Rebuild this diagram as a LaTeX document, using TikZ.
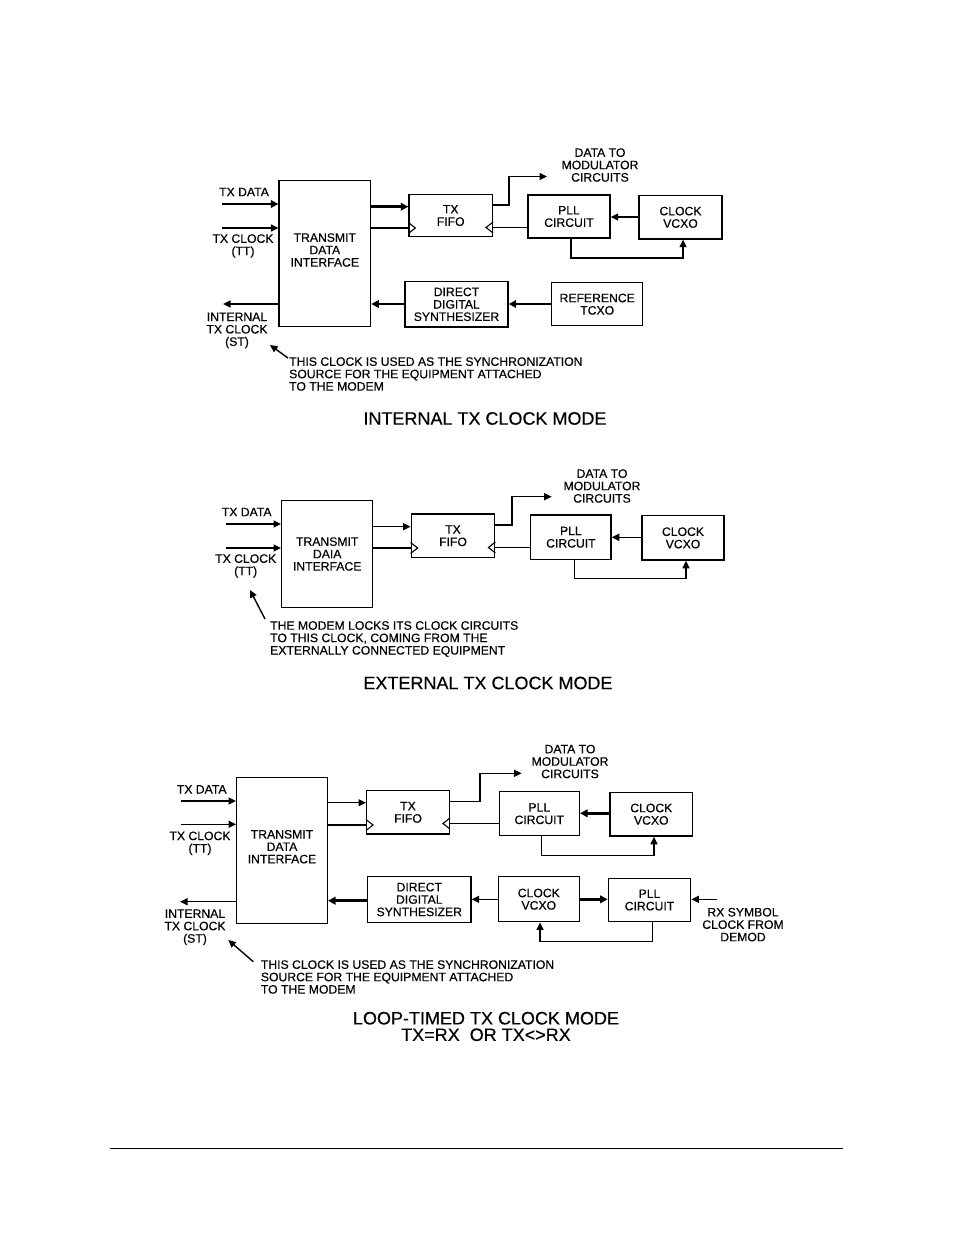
\documentclass[tikz,border=0pt]{standalone}
\usepackage{fontspec}
\setmainfont{Liberation Sans}[FakeBold=0.35]
\usetikzlibrary{arrows.meta}
\newcommand{\lblfont}{\fontsize{12.2}{12.4}\selectfont}
\newcommand{\ttlfont}{\fontsize{18}{16.5}\selectfont}
\tikzset{
  box/.style={draw, line width=1.4pt, inner sep=0pt, align=center, font=\lblfont},
  txt/.style={inner sep=0pt, align=center, font=\lblfont},
  ttl/.style={inner sep=0pt, align=center, font=\ttlfont},
  wire/.style={line width=1.4pt},
  wirea/.style={wire, -{Triangle[length=7.5pt,width=7pt]}},
  bus/.style={line width=2.6pt},
  busa/.style={bus, -{Triangle[length=7.5pt,width=7.5pt]}},
  clk/.style={line width=1.1pt},
}
\begin{document}
\begin{tikzpicture}[x=1pt,y=-1pt]
\fill[white] (0,0) rectangle (954,1235);
\useasboundingbox (0,0) rectangle (954,1235);

% ================= Diagram 1: INTERNAL TX CLOCK MODE =================
\node[box, minimum width=91.5pt, minimum height=146pt] (tdi1) at (324.8,253.7) {};
\node[txt] (tdi1t) at ([yshift=3.7pt]tdi1.center) {TRANSMIT\\DATA\\INTERFACE};
\node[box, minimum width=83.3pt, minimum height=42.4pt] (fifo1) at (450.7,215.5) {TX\\FIFO};
\node[box, minimum width=82pt, minimum height=43pt] (pll1) at (569,216.5) {PLL\\CIRCUIT};
\node[box, minimum width=83pt, minimum height=43.3pt] (vcxo1) at (680.5,217.3) {CLOCK\\VCXO};
\node[box, minimum width=103pt, minimum height=45.3pt] (dds1) at (456.5,304.3) {DIRECT\\DIGITAL\\SYNTHESIZER};
\node[box, minimum width=91pt, minimum height=43pt] (ref1) at (597.2,304.2) {REFERENCE\\TCXO};

\node[txt] (ltxd1) at (244,192) {TX DATA};
\node[txt] (ltxc1) at (243,246) {TX CLOCK\\(TT)};
\node[txt] (lst1) at (237,330.5) {INTERNAL\\TX CLOCK\\(ST)};
\node[txt] (ldm1) at (600,165) {DATA TO\\MODULATOR\\CIRCUITS};
\node[txt, align=left, anchor=west] (note1) at (289,374) {THIS CLOCK IS USED AS THE SYNCHRONIZATION\\SOURCE FOR THE EQUIPMENT ATTACHED\\TO THE MODEM};
\node[ttl] (t1) at (485,418.5) {INTERNAL TX CLOCK MODE};

\coordinate (txd1) at (222,204);
\coordinate (txc1) at (222,228);
\coordinate (st1) at (223,304);
\coordinate (dm1) at (547,176.5);
\coordinate (an1s) at (288,358);
\coordinate (an1e) at (270,345);

\draw[busa] (txd1) -- (txd1 -| tdi1.west);
\draw[wirea] (txc1) -- (txc1 -| tdi1.west);
\draw[wirea] (st1 -| tdi1.west) -- (st1);
\draw[busa] (tdi1.east |- 0,206.7) -- (fifo1.west |- 0,206.7);
\draw[wire] (tdi1.east |- 0,228) -- (fifo1.west |- 0,228);
\draw[clk] (fifo1.west |- 0,222.5) -- ++(7,5.5) -- ++(-7,5.5);
\draw[clk] (fifo1.east |- 0,222) -- ++(-7,5.5) -- ++(7,5.5);
\draw[wirea] (fifo1.east |- 0,205) -- (509,205) -- (509,176.5) -- (dm1);
\draw[wire] (pll1.west |- 0,227.5) -- (fifo1.east |- 0,227.5);
\draw[wirea] (vcxo1.west |- 0,217) -- (pll1.east |- 0,217);
\draw[wirea] (pll1.south -| 571,0) -- (571,258) -- (683,258) -- (vcxo1.south -| 683,0);
\draw[busa] (ref1.west |- 0,304) -- (dds1.east |- 0,304);
\draw[busa] (dds1.west |- 0,304) -- (tdi1.east |- 0,304);
\draw[wirea] (an1s) -- (an1e);

% ================= Diagram 2: EXTERNAL TX CLOCK MODE =================
\node[box, minimum width=91pt, minimum height=106.6pt] (tdi2) at (327.2,554) {};
\node[txt] (tdi2t) at (tdi2.center) {TRANSMIT\\DAIA\\INTERFACE};
\node[box, minimum width=83.4pt, minimum height=43.3pt] (fifo2) at (453,535.7) {TX\\FIFO};
\node[box, minimum width=80.3pt, minimum height=44.3pt] (pll2) at (570.9,537.2) {PLL\\CIRCUIT};
\node[box, minimum width=82pt, minimum height=44.3pt] (vcxo2) at (683,537.9) {CLOCK\\VCXO};

\node[txt] (ltxd2) at (246.7,512) {TX DATA};
\node[txt] (ltxc2) at (245.7,566) {TX CLOCK\\(TT)};
\node[txt] (ldm2) at (602,486) {DATA TO\\MODULATOR\\CIRCUITS};
\node[txt, align=left, anchor=west] (note2) at (270,639) {THE MODEM LOCKS ITS CLOCK CIRCUITS\\TO THIS CLOCK, COMING FROM THE\\EXTERNALLY CONNECTED EQUIPMENT};
\node[ttl] (t2) at (488,683) {EXTERNAL TX CLOCK MODE};

\coordinate (txd2) at (225.7,524);
\coordinate (txc2) at (225.7,548);
\coordinate (dm2) at (551.7,496.7);
\coordinate (an2s) at (265,619);
\coordinate (an2e) at (250,590);

\draw[wirea] (txd2) -- (txd2 -| tdi2.west);
\draw[wirea] (txc2) -- (txc2 -| tdi2.west);
\draw[wirea] (tdi2.east |- 0,526.7) -- (fifo2.west |- 0,526.7);
\draw[wire] (tdi2.east |- 0,548) -- (fifo2.west |- 0,548);
\draw[clk] (fifo2.west |- 0,542.5) -- ++(7,5.5) -- ++(-7,5.5);
\draw[clk] (fifo2.east |- 0,542) -- ++(-7,5.5) -- ++(7,5.5);
\draw[wirea] (fifo2.east |- 0,525) -- (512,525) -- (512,496.7) -- (dm2);
\draw[wire] (pll2.west |- 0,547.5) -- (fifo2.east |- 0,547.5);
\draw[wirea] (vcxo2.west |- 0,537.3) -- (pll2.east |- 0,537.3);
\draw[wirea] (pll2.south -| 574.3,0) -- (574.3,578.3) -- (686,578.3) -- (vcxo2.south -| 686,0);
\draw[wirea] (an2s) -- (an2e);

% ================= Diagram 3: LOOP-TIMED TX CLOCK MODE =================
\node[box, minimum width=90.6pt, minimum height=146pt] (tdi3) at (282,850.3) {};
\node[txt] (tdi3t) at ([yshift=3.6pt]tdi3.center) {TRANSMIT\\DATA\\INTERFACE};
\node[box, minimum width=82.6pt, minimum height=43.3pt] (fifo3) at (408,812.3) {TX\\FIFO};
\node[box, minimum width=103.3pt, minimum height=45.6pt] (dds3) at (419.3,899.5) {DIRECT\\DIGITAL\\SYNTHESIZER};
\node[box, minimum width=80pt, minimum height=44pt] (pll3) at (539.3,813.7) {PLL\\CIRCUIT};
\node[box, minimum width=82.7pt, minimum height=43.7pt] (vcxo3) at (651.3,814.2) {CLOCK\\VCXO};
\node[box, minimum width=81pt, minimum height=45pt] (vcxob3) at (538.8,899.2) {CLOCK\\VCXO};
\node[box, minimum width=82.4pt, minimum height=43.4pt] (pllb3) at (649.5,900) {PLL\\CIRCUIT};

\node[txt] (ltxd3) at (201.7,789.3) {TX DATA};
\node[txt] (ltxc3) at (200,843.3) {TX CLOCK\\(TT)};
\node[txt] (lst3) at (195,927.3) {INTERNAL\\TX CLOCK\\(ST)};
\node[txt] (ldm3) at (570,761.5) {DATA TO\\MODULATOR\\CIRCUITS};
\node[txt] (lrx3) at (743,924.6) {RX SYMBOL\\CLOCK FROM\\DEMOD};
\node[txt, align=left, anchor=west] (note3) at (260.7,977) {THIS CLOCK IS USED AS THE SYNCHRONIZATION\\SOURCE FOR THE EQUIPMENT ATTACHED\\TO THE MODEM};
\node[ttl] (t3) at (486,1026.5) {LOOP-TIMED TX CLOCK MODE\\TX=RX\ \ OR TX<>RX};

\coordinate (txd3) at (180.7,801);
\coordinate (txc3) at (180.7,824.3);
\coordinate (st3) at (180,901.7);
\coordinate (dm3) at (521.7,773.3);
\coordinate (rx3) at (716.7,899.3);
\coordinate (an3s) at (253.3,961.7);
\coordinate (an3e) at (228.3,940);

\draw[wirea] (txd3) -- (txd3 -| tdi3.west);
\draw[wirea] (txc3) -- (txc3 -| tdi3.west);
\draw[wirea] (st3 -| tdi3.west) -- (st3);
\draw[wirea] (tdi3.east |- 0,802.7) -- (fifo3.west |- 0,802.7);
\draw[wire] (tdi3.east |- 0,825) -- (fifo3.west |- 0,825);
\draw[clk] (fifo3.west |- 0,819.5) -- ++(7,5.5) -- ++(-7,5.5);
\draw[clk] (fifo3.east |- 0,818) -- ++(-7,5.5) -- ++(7,5.5);
\draw[wirea] (fifo3.east |- 0,801.7) -- (480,801.7) -- (480,773.3) -- (dm3);
\draw[wire] (pll3.west |- 0,823.5) -- (fifo3.east |- 0,823.5);
\draw[busa] (vcxo3.west |- 0,813.3) -- (pll3.east |- 0,813.3);
\draw[wirea] (pll3.south -| 541.7,0) -- (541.7,855.7) -- (654,855.7) -- (vcxo3.south -| 654,0);
\draw[wirea] (vcxob3.west |- 0,899.3) -- (dds3.east |- 0,899.3);
\draw[busa] (dds3.west |- 0,900.7) -- (tdi3.east |- 0,900.7);
\draw[busa] (vcxob3.east |- 0,899.3) -- (pllb3.west |- 0,899.3);
\draw[wirea] (rx3) -- (rx3 -| pllb3.east);
\draw[wirea] (pllb3.south -| 652.3,0) -- (652.3,941.7) -- (540,941.7) -- (vcxob3.south -| 540,0);
\draw[wirea] (an3s) -- (an3e);

% page rule
\draw[line width=1pt] (110,1148.3) -- (843.3,1148.3);
\end{tikzpicture}
\end{document}
